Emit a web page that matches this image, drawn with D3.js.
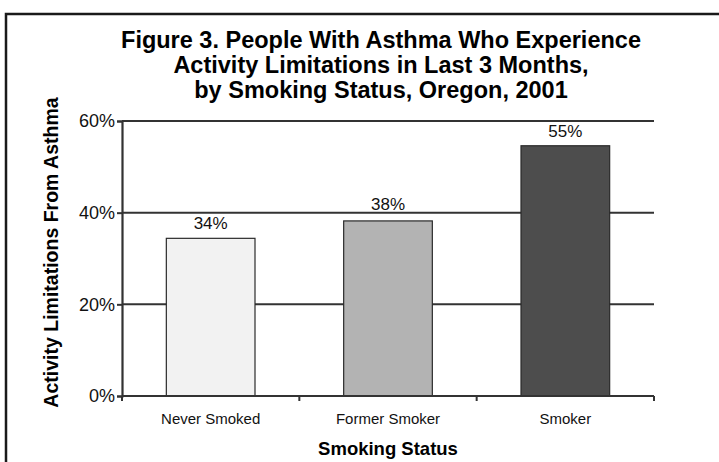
<!DOCTYPE html>
<html>
<head>
<meta charset="utf-8">
<script src="https://cdn.jsdelivr.net/npm/d3@7"></script>
<style>
  html, body { margin: 0; padding: 0; background: #fff; }
  svg { display: block; font-family: "Liberation Sans", Arial, Helvetica, sans-serif; }
</style>
</head>
<body>
<svg id="chart" width="719" height="462"></svg>
<script>
// Share of people with asthma reporting activity limitations, by smoking status
const categories = ["Never Smoked", "Former Smoker", "Smoker"];
const values = [34.4, 38.2, 54.6];
const barColors = ["#f2f2f2", "#b3b3b3", "#4d4d4d"];
const yTicks = [0, 20, 40, 60];
const titleLines = [
  "Figure 3. People With Asthma Who Experience",
  "Activity Limitations in Last 3 Months,",
  "by Smoking Status, Oregon, 2001"
];
const yTitle = "Activity Limitations From Asthma";
const xTitle = "Smoking Status";

const svg = d3.select("#chart");
const W = 719, H = 462;
const plot = { left: 122, right: 654, top: 121, bottom: 396 };

// outer frame
svg.append("rect")
  .attr("x", 6).attr("y", 14)
  .attr("width", W + 20).attr("height", H + 20)
  .attr("fill", "none").attr("stroke", "#1a1a1a").attr("stroke-width", 2.5);

const x = d3.scaleBand()
  .domain(categories)
  .range([plot.left, plot.right])
  .paddingInner(0.5)
  .paddingOuter(0.25);

const y = d3.scaleLinear()
  .domain([0, 60])
  .range([plot.bottom, plot.top]);

// title
svg.append("g")
  .selectAll("text")
  .data(titleLines)
  .join("text")
  .attr("x", 381)
  .attr("y", (d, i) => 48 + i * 25)
  .attr("text-anchor", "middle")
  .attr("font-weight", "bold")
  .attr("font-size", 23.5)
  .attr("fill", "#000")
  .text(d => d);

// horizontal gridlines
const gridValues = yTicks.filter(t => t > 0);
svg.append("g")
  .selectAll("line")
  .data(gridValues)
  .join("line")
  .attr("x1", plot.left).attr("x2", plot.right)
  .attr("y1", d => y(d)).attr("y2", d => y(d))
  .attr("stroke", "#333").attr("stroke-width", 2);

// bars
svg.append("g")
  .selectAll("rect")
  .data(values)
  .join("rect")
  .attr("x", (d, i) => x(categories[i]))
  .attr("y", d => y(d))
  .attr("width", x.bandwidth())
  .attr("height", d => y(0) - y(d))
  .attr("fill", (d, i) => barColors[i])
  .attr("stroke", "#2a2a2a").attr("stroke-width", 1.2);

// value labels, lifted above any gridline they would sit on
const labelSize = 17;
function labelBaseline(v) {
  let base = y(v) - 9;
  const top = base - labelSize * 0.75;
  gridValues.forEach(g => {
    const gy = y(g);
    if (gy > top - 1 && gy < base + 2) base = gy - 3;
  });
  return base;
}
svg.append("g")
  .selectAll("text")
  .data(values)
  .join("text")
  .attr("x", (d, i) => x(categories[i]) + x.bandwidth() / 2)
  .attr("y", d => labelBaseline(d))
  .attr("text-anchor", "middle")
  .attr("font-size", labelSize)
  .attr("fill", "#111")
  .text(d => d3.format(".0f")(d) + "%");

// y axis
const yAxis = d3.axisLeft(y)
  .tickValues(yTicks)
  .tickSize(5)
  .tickPadding(2)
  .tickFormat(d => d + "%");
const gy = svg.append("g")
  .attr("transform", `translate(${plot.left},0)`)
  .call(yAxis);
gy.select(".domain").attr("stroke", "#333").attr("stroke-width", 2.2);
gy.selectAll(".tick line").attr("stroke", "#333").attr("stroke-width", 2);
gy.selectAll(".tick text")
  .attr("font-size", 18).attr("fill", "#111")
  .attr("font-family", "Liberation Sans, Arial, sans-serif");

// x axis: ticks on category boundaries
const gx = svg.append("g")
  .attr("transform", `translate(0,${plot.bottom})`);
gx.append("line")
  .attr("x1", plot.left).attr("x2", plot.right)
  .attr("stroke", "#333").attr("stroke-width", 2.2);
const boundaries = d3.range(categories.length + 1)
  .map(i => plot.left + i * x.step());
gx.selectAll("line.tick")
  .data(boundaries)
  .join("line")
  .attr("class", "tick")
  .attr("x1", d => d).attr("x2", d => d)
  .attr("y1", 0).attr("y2", 5)
  .attr("stroke", "#333").attr("stroke-width", 2);
gx.selectAll("text")
  .data(categories)
  .join("text")
  .attr("x", d => x(d) + x.bandwidth() / 2)
  .attr("y", 28)
  .attr("text-anchor", "middle")
  .attr("font-size", 15)
  .attr("fill", "#111")
  .text(d => d);

// axis titles
svg.append("text")
  .attr("transform", `translate(58,${(plot.top + plot.bottom) / 2 - 6}) rotate(-90)`)
  .attr("text-anchor", "middle")
  .attr("font-weight", "bold")
  .attr("font-size", 19.5)
  .attr("fill", "#000")
  .text(yTitle);

svg.append("text")
  .attr("x", (plot.left + plot.right) / 2)
  .attr("y", 455)
  .attr("text-anchor", "middle")
  .attr("font-weight", "bold")
  .attr("font-size", 18.5)
  .attr("fill", "#000")
  .text(xTitle);
</script>
</body>
</html>
